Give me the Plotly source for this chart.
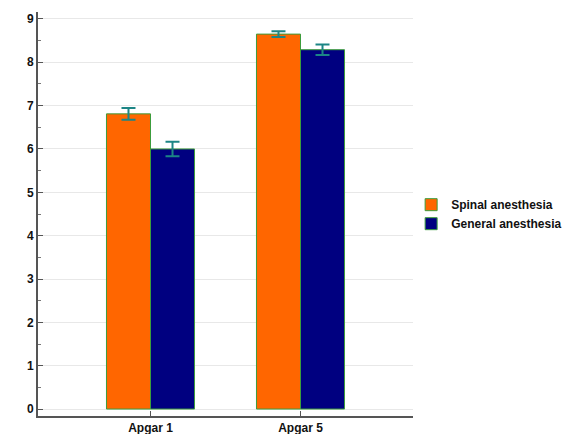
import plotly.graph_objects as go

categories = ["Apgar 1", "Apgar 5"]
spinal = [6.81, 8.65]
spinal_err = [0.135, 0.065]
general = [6.0, 8.29]
general_err = [0.166, 0.12]
y_ticks = [0, 1, 2, 3, 4, 5, 6, 7, 8, 9]

font_family = "Liberation Sans, Arial, sans-serif"
outline = "#3c9c3c"
err_color = "#1c8585"

fig = go.Figure()
fig.add_trace(go.Bar(
    x=categories, y=spinal, name="Spinal anesthesia",
    marker=dict(color="#ff6600", line=dict(color=outline, width=1)),
    error_y=dict(type="data", array=spinal_err, color=err_color, thickness=2, width=7),
))
fig.add_trace(go.Bar(
    x=categories, y=general, name="General anesthesia",
    marker=dict(color="#000080", line=dict(color=outline, width=1)),
    error_y=dict(type="data", array=general_err, color=err_color, thickness=2, width=7),
))

# page body has an 8px default margin, so the figure is sized to fill the rest
fig.update_layout(
    width=567, height=426,
    margin=dict(l=30, r=162, t=4, b=18, autoexpand=False),
    plot_bgcolor="white", paper_bgcolor="white",
    barmode="group", bargap=0.413, bargroupgap=0,
    font=dict(family=font_family, color="#111111"),
    showlegend=True,
    legend=dict(
        xref="container", yref="container",
        x=0.711, y=0.516, xanchor="left", yanchor="middle",
        font=dict(size=12, family=font_family, weight="bold", color="#111111"),
        bgcolor="rgba(0,0,0,0)", tracegroupgap=0,
    ),
)
fig.update_xaxes(
    type="category", range=[-0.75, 1.75], automargin=False,
    showline=True, linecolor="#555555", linewidth=2,
    ticks="inside", ticklen=5, tickcolor="#555555", tickwidth=1,
    tickfont=dict(size=12, family=font_family, weight="bold", color="#111111"),
    showgrid=False, zeroline=False,
)
fig.update_yaxes(
    range=[-0.16, 9.16], automargin=False,
    tickvals=y_ticks, ticktext=[str(v) for v in y_ticks],
    showline=True, linecolor="#555555", linewidth=2,
    ticks="inside", ticklen=5, tickcolor="#555555", tickwidth=1,
    minor=dict(dtick=0.5, ticks="inside", ticklen=3, tickcolor="#777777", showgrid=False),
    tickfont=dict(size=12, family=font_family, weight="bold", color="#111111"),
    showgrid=True, gridcolor="#e8e8e8", gridwidth=1,
    zeroline=False,
)

fig.write_html("out.html")
